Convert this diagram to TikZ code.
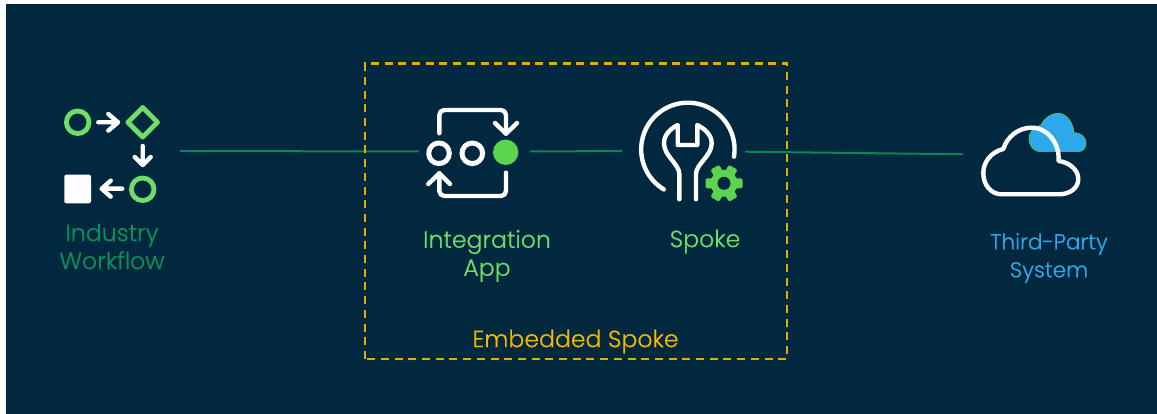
\documentclass[tikz,border=0pt]{standalone}
\usepackage{fontspec}
\setmainfont{Poppins}[UprightFont=* Light, FakeBold=0.35]
\usetikzlibrary{positioning}

\definecolor{navy}{HTML}{02283F}
\definecolor{flowgreen}{HTML}{0B8F5C}
\definecolor{linegreen}{HTML}{0B8656}
\definecolor{lightgreen}{HTML}{6FDE68}
\definecolor{dotgreen}{HTML}{5CD44E}
\definecolor{skyblue}{HTML}{2BA9EC}
\definecolor{amber}{HTML}{F5B800}

\begin{document}
\begin{tikzpicture}[x=1pt,y=1pt]
    \tikzset{iconbox/.style= {rectangle
    , inner sep=0pt
    , minimum height=60pt
      }
    , caption/.style= {align=center
    , inner sep=0pt
    , font=\fontsize{23.6}{28}\selectfont
      }
    , greenline/.style= {draw=lightgreen, line width=4.8pt}
    , whiteline/.style= {draw=white, line width=4.4pt, line cap=round, line join=round}
    }

\useasboundingbox (0,0) rectangle (1157,414);
\fill[white] (0,0) rectangle (1157,414);
\fill[navy] (5.5,0) rectangle (1157,410);

\node [iconbox, minimum width=124pt] (workflow) at (118,263) {};
\node [iconbox, minimum width=111pt] (app) at (474.5,262.5) {};
\node [iconbox, minimum width=123pt] (spoke) at (683.5,263) {};
\node [iconbox, minimum width=124pt] (cloud) at (1025,259) {};

 \path[draw, linegreen, line width=2pt]
  (workflow) -- (app) -- (spoke) -- (cloud);

\node [caption, text=flowgreen] (workflowlabel) at (112,167.5) {Industry\\Workflow};
\node [caption, text=lightgreen] (applabel) at (487,158) {Integration\\App};
\node [caption, text=lightgreen] (spokelabel) at (705,172.5) {Spoke};
\node [caption, text=skyblue, font=\fontsize{21.6}{28}\selectfont] (cloudlabel) at (1049,156) {Third-Party\\System};
\node [caption, text=amber] (embeddedlabel) at (575.5,72.5) {Embedded Spoke};

\draw[draw=amber!92!navy, line width=2.2pt, dash pattern=on 8pt off 5.7pt] (365,55) rectangle (787,350.5);

% workflow icon
\draw[greenline] (77.7,291.7) circle (11.3);
\draw[greenline, line join=round] (142.7,306.5) -- (157.5,291.7) -- (142.7,276.9) -- (127.9,291.7) -- cycle;
\draw[greenline] (142.7,224.7) circle (11.3);
\fill[white, rounded corners=2pt] (64.3,210.7) rectangle (91,239.3);
\draw[whiteline] (98.3,291.7) -- (118,291.7) (108.3,300) -- (118,291.7) -- (108.3,283.4);
\draw[whiteline] (142.7,268) -- (142.7,249) (134.7,257) -- (142.7,249) -- (150.7,257);
\draw[whiteline] (122.3,225.3) -- (101.7,225.3) (110.7,233.3) -- (101.7,225.3) -- (110.7,217.3);

% app icon
\draw[whiteline, line width=5pt] (439,260.7) circle (10.3) (472.3,260.7) circle (10.3);
\fill[dotgreen] (505.7,261.7) circle (12.7);
\draw[whiteline, rounded corners=5pt] (439.3,280.7) -- (439.3,304) -- (506,304) -- (506,280.7);
\draw[whiteline] (495,291) -- (506,280.2) -- (517,291);
\draw[whiteline, rounded corners=5pt] (506,241.3) -- (506,218) -- (439.3,218) -- (439.3,240.7);
\draw[whiteline] (428.3,230) -- (439.3,240.7) -- (450,230);

% spoke icon
\draw[whiteline] (734,257.3) arc[start angle=-9, end angle=239, radius=46.7pt];
\draw[whiteline] (679.3,214.7) -- (679.3,240) .. controls (679.3,250) and (664,258) .. (664,270.7)
  .. controls (664,279) and (670,285) .. (677.7,289) -- (677.7,269) -- (697.3,269) -- (697.3,289)
  .. controls (705,285) and (711.7,279) .. (711.7,270.7) .. controls (711.7,258) and (696,250) .. (696,240)
  -- (696,214.7);
\fill[dotgreen] (724,230.7) circle (13.5);
\foreach \a in {30,90,...,330}
  \fill[dotgreen, shift={(724,230.7)}, rotate=\a, rounded corners=1.5pt] (-5,10) rectangle (5,18.5);
\fill[navy] (724,230.7) circle (6.5);

% cloud icon
\filldraw[fill=skyblue, draw=dotgreen, line width=0.6pt] (1040,262.3) -- (1078.3,262.3)
  .. controls (1083,262.3) and (1086,266) .. (1086,271.3) .. controls (1086,277) and (1080,281.5) .. (1074,281.3)
  .. controls (1073,292) and (1066,300.7) .. (1058.3,300.7) .. controls (1050,300.7) and (1044,295) .. (1041,289)
  .. controls (1034,287) and (1029,282) .. (1029,275.7) .. controls (1029,268) and (1034,262.3) .. (1040,262.3) -- cycle;
\draw[whiteline] (1001.7,219.7) -- (1059,219.7) .. controls (1070,219.7) and (1078.3,226) .. (1078.3,235)
  .. controls (1078.3,245) and (1068,252) .. (1058.5,253) .. controls (1060,270) and (1048,286.3) .. (1031.7,286.3)
  .. controls (1018,286.3) and (1007,277) .. (1003.3,265) .. controls (991,262) and (983.3,252) .. (983.3,241)
  .. controls (983.3,229) and (991,219.7) .. (1001.7,219.7) -- cycle;
\end{tikzpicture}
\end{document}
